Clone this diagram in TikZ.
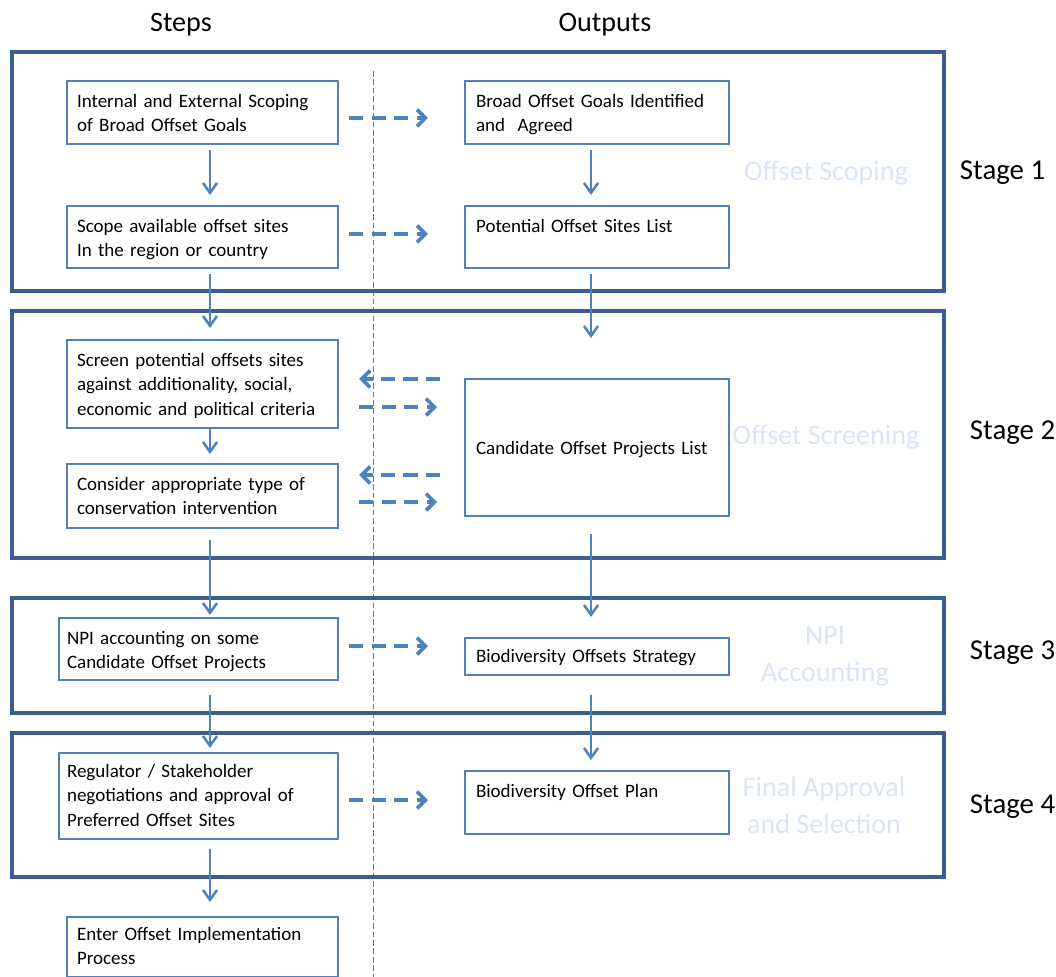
\documentclass[tikz,border=0pt]{standalone}
\usepackage{fontspec}
\setmainfont{Carlito}
\usetikzlibrary{arrows.meta}
\definecolor{frameblue}{RGB}{58,95,140}
\definecolor{lineblue}{RGB}{79,129,189}
\definecolor{paleblue}{RGB}{218,228,243}

\begin{document}
\begin{tikzpicture}[x=0.025cm,y=-0.025cm,
    stepbox/.style={draw=lineblue, line width=1.5pt, anchor=north west, inner xsep=0.25cm, inner ysep=0pt,
        text width=6.275cm, text height=0.65cm, align=left, font=\fontsize{13.5}{17.7}\selectfont},
    outbox/.style={stepbox, inner xsep=0.275cm, text width=6.05cm},
    stageframe/.style={draw=frameblue, line width=2.6pt},
    flow/.style={draw=lineblue, line width=1.8pt, -{Straight Barb[length=7pt,width=10pt]}},
    dashflow/.style={draw=lineblue, line width=2.6pt, dash pattern=on 10pt off 6pt, -{Straight Barb[length=6pt,width=12pt]}},
    stagename/.style={anchor=west, font=\fontsize{20.5}{25}\selectfont},
    faint/.style={text=paleblue, align=center, font=\fontsize{20}{26.2}\selectfont}]
        \useasboundingbox (0,0) rectangle (1056,977);
        % headers
        \node[font=\fontsize{20}{24}\selectfont] (steps) at (181,25) {Steps};
        \node[font=\fontsize{20}{24}\selectfont] (outputs) at (605,25) {Outputs};
        \draw[lineblue, line width=0.6pt, dash pattern=on 4pt off 2pt] (373,71) -- (373,977);
        % stage frames
        \draw[stageframe] (12,52) rectangle (944,291);
        \draw[stageframe] (12,311) rectangle (944,558);
        \draw[stageframe] (12,598) rectangle (944,713);
        \draw[stageframe] (12,733) rectangle (944,877);
        \node[faint] (scoping) at (826,173) {Offset Scoping};
        \node[faint] (screening) at (826,437) {Offset Screening};
        \node[faint] (accounting) at (825,656) {NPI\\Accounting};
        \node[faint] (approval) at (824,805) {Final Approval\\and Selection};
        \node[stagename] (stage1) at (955,173) {Stage 1};
        \node[stagename] (stage2) at (965,433) {Stage 2};
        \node[stagename] (stage3) at (965,653) {Stage 3};
        \node[stagename] (stage4) at (965,807) {Stage 4};
        % steps
        \node[stepbox, text depth=0.925cm] (scope) at (66,80) {Internal and External Scoping\\of Broad Offset Goals};
        \node[stepbox, text depth=0.9cm] (sites) at (66,205) {Scope available offset sites\\In the region or country};
        \node[stepbox, text depth=1.55cm] (screen) at (66,339) {Screen potential offsets sites\\against additionality, social,\\economic and political criteria};
        \node[stepbox, text depth=0.95cm] (consider) at (66,463) {Consider appropriate type of\\conservation intervention};
        \node[stepbox, inner xsep=0.2cm, text width=6.575cm, text depth=0.9cm] (npi) at (58,617) {NPI accounting on some\\Candidate Offset Projects};
        \node[stepbox, inner xsep=0.2cm, text width=6.575cm, text height=0.6cm, text depth=1.55cm] (negot) at (58,752) {Regulator / Stakeholder\\negotiations and approval of\\Preferred Offset Sites};
        \node[stepbox, text height=0.575cm, text depth=0.925cm] (enter) at (66,916) {Enter Offset Implementation\\Process};
        % outputs
        \node[outbox, text depth=0.925cm] (goals) at (464,80) {Broad Offset Goals Identified\\and~ Agreed};
        \node[outbox, text depth=0.9cm] (sitelist) at (464,205) {Potential Offset Sites List};
        \node[outbox, text height=1.875cm, text depth=1.55cm] (candidates) at (464,378) {Candidate Offset Projects List};
        \node[outbox, text height=0.6cm, text depth=0.325cm] (strategy) at (464,637) {Biodiversity Offsets Strategy};
        \node[outbox, text depth=0.925cm] (plan) at (464,770) {Biodiversity Offset Plan};
        % vertical flow
        \coordinate (lcol) at (210,0);
        \coordinate (rcol) at (591,0);
        \draw[flow, shorten <=0.125cm, shorten >=0.25cm] (scope.south -| lcol) -- (sites.north -| lcol);
        \draw[flow, shorten <=0.125cm, shorten >=0.275cm] (sites.south -| lcol) -- (screen.north -| lcol);
        \draw[flow, shorten >=0.225cm] (screen.south -| lcol) -- (consider.north -| lcol);
        \draw[flow, shorten <=0.275cm, shorten >=0.05cm] (consider.south -| lcol) -- (npi.north -| lcol);
        \draw[flow, shorten <=0.35cm, shorten >=0.1cm] (npi.south -| lcol) -- (negot.north -| lcol);
        \draw[flow, shorten <=0.225cm, shorten >=0.35cm] (negot.south -| lcol) -- (enter.north -| lcol);
        \draw[flow, shorten <=0.125cm, shorten >=0.25cm] (goals.south -| rcol) -- (sitelist.north -| rcol);
        \draw[flow, shorten <=0.125cm, shorten >=1cm] (sitelist.south -| rcol) -- (candidates.north -| rcol);
        \draw[flow, shorten <=0.425cm, shorten >=0.5cm] (candidates.south -| rcol) -- (strategy.north -| rcol);
        \draw[flow, shorten <=0.475cm, shorten >=0.25cm] (strategy.south -| rcol) -- (plan.north -| rcol);
        % steps to outputs
        \draw[dashflow, shorten <=0.25cm, shorten >=0.9cm] (scope.east |- 0,118) -- (goals.west |- 0,118);
        \draw[dashflow, shorten <=0.25cm, shorten >=0.9cm] (sites.east |- 0,234) -- (sitelist.west |- 0,234);
        \draw[dashflow, shorten <=0.6cm, shorten >=0.5cm] (candidates.west |- 0,379) -- (screen.east |- 0,379);
        \draw[dashflow, shorten <=0.5cm, shorten >=0.675cm] (screen.east |- 0,407) -- (candidates.west |- 0,407);
        \draw[dashflow, shorten <=0.6cm, shorten >=0.5cm] (candidates.west |- 0,475) -- (consider.east |- 0,475);
        \draw[dashflow, shorten <=0.5cm, shorten >=0.675cm] (consider.east |- 0,502) -- (candidates.west |- 0,502);
        \draw[dashflow, shorten <=0.25cm, shorten >=0.9cm] (npi.east |- 0,646) -- (strategy.west |- 0,646);
        \draw[dashflow, shorten <=0.25cm, shorten >=0.9cm] (negot.east |- 0,800) -- (plan.west |- 0,800);
\end{tikzpicture}
\end{document}
